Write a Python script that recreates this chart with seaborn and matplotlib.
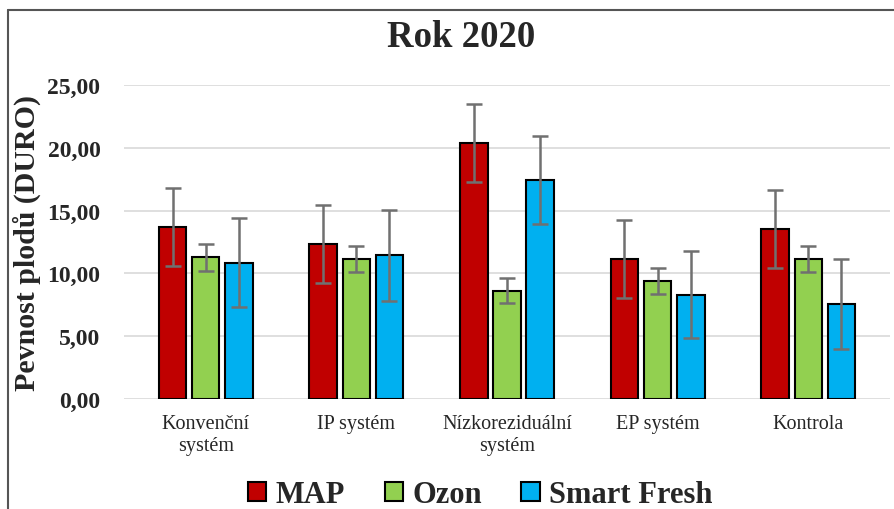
"""Pevnost plodů (DURO) by growing system and storage treatment, year 2020."""

import numpy as np
import pandas as pd
import seaborn as sns
import matplotlib.pyplot as plt
from matplotlib.lines import Line2D

categories = ["Konvenční\nsystém", "IP systém", "Nízkoreziduální\nsystém",
              "EP systém", "Kontrola"]
treatments = ["MAP", "Ozon", "Smart Fresh"]

map_vals = [13.72, 12.34, 20.38, 11.15, 13.51]
ozon_vals = [11.28, 11.15, 8.63, 9.39, 11.15]
sf_vals = [10.85, 11.44, 17.41, 8.30, 7.56]

map_err = [3.1, 3.1, 3.1, 3.1, 3.1]
ozon_err = [1.05, 1.03, 1.0, 1.02, 1.03]
sf_err = [3.55, 3.6, 3.5, 3.45, 3.55]

COLORS = {"MAP": "#C00000", "Ozon": "#92D050", "Smart Fresh": "#00B0F0"}
SERIF = ["Liberation Serif", "DejaVu Serif"]

sns.set_style("white")
plt.rcParams["font.family"] = SERIF

rows = []
for t, vals, errs in zip(treatments, [map_vals, ozon_vals, sf_vals],
                         [map_err, ozon_err, sf_err]):
    for c, v, e in zip(categories, vals, errs):
        rows.append({"kategorie": c, "ošetření": t, "hodnota": v, "sd": e})
df = pd.DataFrame(rows)

fig = plt.figure(figsize=(8.94, 5.10), dpi=100)
ax = fig.add_axes([0.1387, 0.2157, 0.8568, 0.6157])

sns.barplot(
    data=df, x="kategorie", y="hodnota", hue="ošetření",
    order=categories, hue_order=treatments, palette=COLORS, saturation=1,
    width=0.66, gap=0.17, errorbar=None,
    edgecolor="black", linewidth=1.5, ax=ax,
)

# error bars at the centre of each bar
for i, t in enumerate(treatments):
    cont = ax.containers[i]
    d = df[df["ošetření"] == t].set_index("kategorie").loc[categories]
    xs = [p.get_x() + p.get_width() / 2 for p in cont.patches]
    ax.errorbar(xs, d["hodnota"], yerr=d["sd"], fmt="none",
                ecolor="#707070", elinewidth=1.8, capsize=5.5, capthick=1.8,
                zorder=5)

ax.set_ylim(0, 25)
ax.set_yticks(np.arange(0, 26, 5))
ax.set_yticklabels([f"{v:.2f}".replace(".", ",") for v in np.arange(0, 26, 5)],
                   fontsize=17, fontweight="bold")
ax.yaxis.grid(True, color="#d9d9d9", lw=1.2)
ax.set_axisbelow(True)
ax.tick_params(axis="y", length=0, pad=17)
ax.tick_params(axis="x", length=0, pad=11, labelsize=14.5)
for s in ax.spines.values():
    s.set_visible(False)
ax.set_xlabel("")
ax.set_ylabel("Pevnost plodů (DURO)", fontsize=21.5, fontweight="bold")
ax.yaxis.set_label_coords(-0.108, 0.5)

fig.text(0.516, 1 - 47 / 510, "Rok 2020", ha="center", va="baseline",
         fontsize=26.5, fontweight="bold")

ax.legend(loc="center", bbox_to_anchor=(0.465, -0.305), ncol=3, frameon=False,
          prop={"size": 22, "weight": "bold"}, handlelength=0.6,
          handleheight=0.6, handletextpad=0.3, columnspacing=1.3)

# chart frame, only its top and left edges fall inside the picture
fig.add_artist(Line2D([8 / 894, 8 / 894], [0, 1 - 11 / 510],
                      transform=fig.transFigure, color="#555555", lw=1.5))
fig.add_artist(Line2D([8 / 894, 1], [1 - 11 / 510, 1 - 11 / 510],
                      transform=fig.transFigure, color="#555555", lw=1.5))

fig.savefig("out.png", dpi=100)
